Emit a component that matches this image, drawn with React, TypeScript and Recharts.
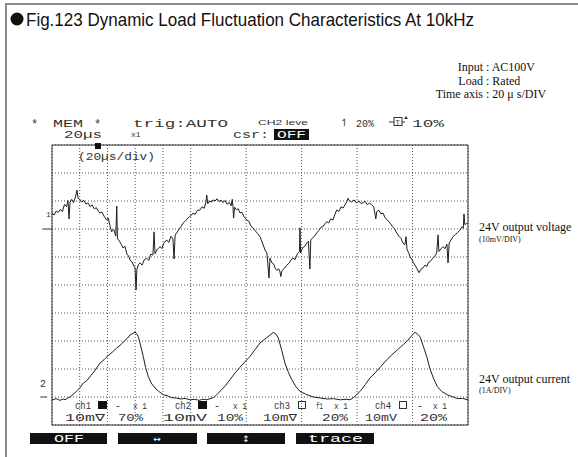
import React from 'react';
import { LineChart, Line, XAxis, YAxis, CartesianGrid, ReferenceArea, ReferenceLine } from 'recharts';

// time in µs, voltage deviation in mV (ch1 reference = 0), current in A (ch2 reference = 0)
const voltagePoints: [number, number][] = [
  [0,5.7],[1.5,5.0],[3,6.4],[4.5,5.9],[6,7.0],[7.5,6.2],[9,8.8],[10.5,8.0],[11.5,10.2],[12.3,3.6],[13,9.5],[14.2,10.6],[15.5,9.4],[17,11.5],[18,13.9],[18.8,11.0],[20,10.6],[21.4,9.6],[23,10.2],[24.5,8.9],[26,9.3],[27.4,8.0],[29,8.6],[30.5,7.2],[32,7.6],[33.5,6.3],[34.6,5.7],[36,6.1],[37.5,4.6],[39.4,3.2],[40.5,3.9],[41.8,1.2],[43,-1.0],[44.5,-0.2],[46,-2.5],[46.7,8.2],[47.2,-3.5],[48.5,-4.2],[50,-5.5],[51.2,-6.8],[52.5,-6.1],[54,-8.9],[55.2,-9.6],[56.3,-11.1],[57.8,-11.8],[59,-13.2],[59.9,-13.9],[60.6,-21.8],[61.2,-14.5],[62.3,-12.8],[63.5,-12.1],[65,-12.9],[66.5,-11.0],[68.3,-10.4],[69.8,-11.2],[71.2,-9.0],[72.8,-9.3],[73.6,-1.0],[74.3,-8.8],[75.8,-7.4],[77.9,-6.3],[79.2,-7.0],[80.6,-5.1],[82.7,-3.9],[84.2,-4.8],[85.8,-2.6],[87.2,-3.5],[88,-10.7],[88.8,-2.2],[89.9,-1.4],[91.5,-0.2],[93,0.9],[94.5,2.1],[96,2.8],[97.5,3.6],[99,4.4],[100.5,4.9],[101.7,5.7],[103.2,5.2],[104.8,6.6],[106.7,6.8],[108.2,7.9],[109.8,7.4],[111,9.6],[111.6,12.1],[112.3,9.0],[113.8,10.0],[115,9.6],[116.1,10.4],[117.6,10.0],[119,10.8],[120.5,9.8],[122,10.3],[123.3,9.4],[124.8,10.2],[126.3,8.8],[127.8,9.5],[129.2,8.3],[130,10.6],[130.5,8.0],[131,3.9],[131.6,7.8],[133,6.9],[134.3,7.2],[135.6,5.7],[137,6.0],[138.7,4.2],[140.4,3.2],[142,2.8],[143.5,1.0],[145,0.4],[146.5,-0.6],[148.2,-1.6],[150,-2.75],[151.8,-5.0],[153.6,-7.5],[155,-8.6],[156.5,-17.5],[157.2,-10.4],[158.5,-12.0],[160,-12.6],[160.8,-13.9],[162.3,-14.8],[163.4,-14.2],[164.4,-15.3],[165,-17.0],[165.8,-14.9],[167.5,-14.1],[169.3,-12.9],[171,-12.2],[172.4,-11.0],[173.8,-10.4],[175.3,-10.9],[177,-8.8],[178.5,-8.1],[178.8,0.4],[179.3,-8.5],[180.8,-6.6],[182.3,-6.2],[183.7,-5.0],[184.9,-4.4],[186,-14.3],[186.6,-3.9],[188,-3.2],[189.5,-2.4],[190.9,-1.4],[192.5,-0.5],[194,0.6],[195.5,0.9],[197,2.0],[198.1,2.6],[199.6,2.2],[201,3.6],[202.6,3.2],[204,5.2],[205.3,6.8],[206.8,6.2],[208.4,7.9],[209.9,7.5],[211.5,8.8],[212.7,9.8],[213.5,11.0],[214.3,10.2],[216,9.6],[217.8,10.4],[219.7,9.3],[221.3,10.0],[222.8,9.1],[224.3,9.4],[225.8,9.9],[227.3,8.7],[229,9.2],[230.6,8.6],[232,8.0],[233.5,3.6],[234.2,6.2],[235.7,6.7],[237.2,5.4],[238.7,5.7],[240.3,4.0],[242,3.1],[243.8,2.1],[245.4,0.9],[247,0.1],[248.6,-1.4],[250.2,-2.6],[251.7,-3.4],[253.1,-5.0],[254.5,-5.6],[255.3,-2.75],[256,-7.2],[257.1,-8.4],[258.2,-9.9],[259.5,-10.8],[260.6,-12.0],[261.8,-12.9],[263.2,-14.2],[264.7,-15.6],[266,-14.4],[267.5,-13.9],[269,-12.9],[270.4,-13.4],[271.5,-11.9],[272.6,-11.7],[274,-10.8],[275.8,-9.9],[277.4,-8.6],[278.4,-2.1],[279,-8.0],[280.5,-7.1],[282,-6.3],[283.5,-7.0],[284.8,-5.4],[285.6,-12.1],[286.4,-5.0],[287.8,-3.9],[289.2,-2.75],[290.8,-2.0],[292.5,-1.3],[294.2,-0.4],[295.7,0.8],[296.6,0.3],[297.1,5.4],[297.7,1.6],[298.8,1.9],[299.8,2.25]
];

const currentPoints: [number, number][] = [
  [0,-0.1],[3,-0.06],[5.8,-0.12],[8,-0.07],[9.4,-0.1],[11,-0.05],[13,0],[15.5,0.1],[18,0.22],[20.5,0.35],[22.6,0.5],[25,0.58],[28,0.76],[31,0.95],[34.6,1.21],[37.5,1.33],[40.5,1.48],[43.5,1.6],[46.6,1.75],[49.5,1.86],[52.5,2.02],[54.5,2.1],[56.3,2.22],[58.2,2.27],[59.9,2.32],[61,2.26],[62.2,2.16],[63.5,1.92],[65.8,1.45],[67.5,1.05],[69.4,0.74],[71.5,0.5],[74.3,0.32],[77,0.2],[80.3,0.08],[83,0.05],[86,-0.02],[89.9,-0.04],[93,-0.07],[96,-0.05],[99.5,-0.1],[103,-0.08],[106,-0.12],[109,-0.08],[111.6,-0.1],[114,-0.06],[116.5,-0.02],[118.8,0.08],[121.5,0.22],[125,0.4],[128.4,0.62],[132,0.86],[135.5,1.06],[139,1.25],[142.8,1.45],[146.5,1.7],[150,1.93],[153,2.05],[156.5,2.18],[159.6,2.31],[161.5,2.25],[163.2,2.11],[165.5,1.7],[168,1.21],[170.5,0.88],[172.9,0.62],[175.8,0.38],[178.8,0.2],[183,0.1],[188.4,0],[193,-0.03],[198.1,-0.07],[203,-0.06],[208,-0.1],[212,-0.08],[214.9,-0.1],[217.5,-0.02],[219.7,0.08],[223,0.25],[226,0.45],[229.3,0.68],[233,0.86],[237,1.08],[241.4,1.33],[245,1.5],[249,1.68],[253.3,1.87],[256.5,2.02],[259.5,2.2],[261.8,2.31],[263.5,2.25],[265.4,2.16],[267.5,1.85],[270.2,1.45],[272.5,1.02],[275,0.68],[277.8,0.38],[281,0.2],[285,0.08],[289.4,0],[292.5,-0.06],[296,-0.05],[300,-0.1]
];

const timeTicks = [0, 20, 40, 60, 80, 100, 120, 140, 160, 180, 200, 220, 240, 260, 280, 300];
const voltageTicks = [-70, -60, -50, -40, -30, -20, -10, 0, 10, 20, 30];
const currentTicks = [-1, 0, 1, 2, 3, 4, 5, 6, 7, 8, 9];

const voltageData = voltagePoints.map(([t, v]) => ({ t, v }));
const currentData = currentPoints.map(([t, i]) => ({ t, i }));

const SCOPE = "'Liberation Mono', 'DejaVu Sans Mono', monospace";
const SANS = "'Liberation Sans', Arial, sans-serif";
const SYM = "'DejaVu Sans', sans-serif";
const SERIF = "'Liberation Serif', 'Times New Roman', serif";
const INK = '#333';

function ST(props: { x: number; y: number; w?: number; size?: number; fill?: string; anchor?: string; children: React.ReactNode; font?: string }) {
  const { x, y, w, size = 10, fill = INK, anchor = 'start', children, font = SCOPE } = props;
  return (
    <text x={x} y={y} fontFamily={font} fontSize={size} fill={fill} textAnchor={anchor as any}
      {...(w ? { textLength: w, lengthAdjust: 'spacingAndGlyphs' } : {})}>{children}</text>
  );
}

function Overlay() {
  return (
    <svg width={578} height={457} style={{ position: 'absolute', left: 0, top: 0, pointerEvents: 'none' }}>
      <path d="M6 457 L6 4 L578 4" fill="none" stroke="#8a8a8a" strokeWidth={2} />
      <circle cx={17} cy={19} r={6.5} fill="#111" />
      <text x={26} y={26} fontFamily="'Liberation Sans Narrow', 'Liberation Sans', Arial, sans-serif" fontSize={18.5} fill="#111" textLength={448} lengthAdjust="spacingAndGlyphs">Fig.123  Dynamic Load Fluctuation Characteristics At 10kHz</text>

      <text fontFamily={SERIF} fontSize={12} fill="#111">
        <tspan x={483} y={71} textAnchor="end">Input</tspan><tspan x={486} y={71}>: AC100V</tspan>
      </text>
      <text fontFamily={SERIF} fontSize={12} fill="#111">
        <tspan x={483} y={84.5} textAnchor="end">Load</tspan><tspan x={486} y={84.5}>: Rated</tspan>
      </text>
      <text fontFamily={SERIF} fontSize={12} fill="#111">
        <tspan x={483} y={98} textAnchor="end">Time axis</tspan><tspan x={486} y={98}>: 20 μ s/DIV</tspan>
      </text>

      <ST x={31} y={128} size={12}>*</ST>
      <ST x={53} y={127} w={30} size={11}>MEM</ST>
      <ST x={94} y={128} size={12}>*</ST>
      <ST x={133} y={127} w={95} size={11}>trig:AUTO</ST>
      <ST x={258} y={125} w={50} size={8} font={SANS}>CH2 leve</ST>
      <ST x={340} y={126} size={10} font={SYM}>↿</ST>
      <ST x={356} y={127} w={18} size={10}>20%</ST>
      <path d="M389 122 L394 122 M402 122 L405 122" stroke={INK} strokeWidth={1} />
      <rect x={394} y={117.5} width={8} height={8} fill="none" stroke={INK} strokeWidth={1} />
      <ST x={395.5} y={124.5} size={7} font={SANS}>T</ST>
      <path d="M404 119 L406 116 L408 119 Z" fill={INK} />
      <ST x={412} y={127} w={32} size={11}>10%</ST>

      <ST x={64} y={138} w={38} size={11}>20µs</ST>
      <ST x={131} y={137} size={8}>x1</ST>
      <ST x={233} y={138} w={36} size={11}>csr:</ST>
      <rect x={274} y={129} width={35} height={11} fill="#111" />
      <ST x={277} y={138} w={29} size={10} fill="#fff">OFF</ST>

      <rect x={95} y={143} width={6} height={6} fill="#111" />
      <ST x={78} y={160} w={77} size={10}>(20µs/div)</ST>

      <ST x={46} y={217} size={8}>1</ST>
      <ST x={40} y={387} size={10}>2</ST>

      <ST x={75} y={409} w={16} size={10}>ch1</ST>
      <rect x={98} y={401} width={9} height={8} fill="#111" />
      <ST x={115} y={409} size={10}>-</ST>
      <ST x={133} y={409} w={14} size={9}>x 1</ST>
      <ST x={175} y={409} w={16} size={10}>ch2</ST>
      <rect x={198} y={401} width={9} height={8} fill="#111" />
      <ST x={214} y={409} size={10}>-</ST>
      <ST x={233} y={409} w={14} size={9}>x 1</ST>
      <ST x={274} y={409} w={16} size={10}>ch3</ST>
      <rect x={298.5} y={401.5} width={7} height={7} fill="none" stroke={INK} strokeWidth={1} />
      <ST x={316} y={409} w={7} size={9}>f1</ST>
      <ST x={334} y={409} w={14} size={9}>x 1</ST>
      <ST x={375} y={409} w={16} size={10}>ch4</ST>
      <rect x={399.5} y={401.5} width={7} height={7} fill="none" stroke={INK} strokeWidth={1} />
      <ST x={417} y={409} size={10}>-</ST>
      <ST x={433} y={409} w={14} size={9}>x 1</ST>

      <ST x={65} y={421} w={40} size={10}>10m∇</ST>
      <ST x={118} y={421} w={25} size={10}>70%</ST>
      <ST x={163} y={421} w={44} size={10}>10mV</ST>
      <ST x={217} y={421} w={26} size={10}>10%</ST>
      <ST x={263} y={421} w={34} size={10}>10m∇</ST>
      <ST x={322} y={421} w={26} size={10}>20%</ST>
      <ST x={365} y={421} w={32} size={10}>10mV</ST>
      <ST x={420} y={421} w={27} size={10}>20%</ST>

      <rect x={30} y={433} width={77} height={11} fill="#111" />
      <ST x={54} y={442} w={30} size={10} fill="#fff">OFF</ST>
      <rect x={118} y={433} width={79} height={11} fill="#111" />
      <ST x={157} y={442} size={9} fill="#fff" anchor="middle" font={SYM}>↔</ST>
      <rect x={207} y={433} width={78} height={11} fill="#111" />
      <ST x={246} y={442} size={9} fill="#fff" anchor="middle" font={SYM}>↕</ST>
      <rect x={296} y={433} width={78} height={11} fill="#111" />
      <ST x={308} y={442} w={55} size={10} fill="#fff">trace</ST>

      <ST x={479} y={231} size={12} font={SERIF} fill="#111">24V output voltage</ST>
      <ST x={479} y={242} size={8} font={SERIF} fill="#111">(10mV/DIV)</ST>
      <ST x={479} y={383} size={12} font={SERIF} fill="#111">24V output current</ST>
      <ST x={479} y={393} size={8} font={SERIF} fill="#111">(1A/DIV)</ST>
    </svg>
  );
}

export default function App() {
  return (
    <div style={{ position: 'absolute', left: 0, top: 0, width: 578, height: 457, background: '#fff', overflow: 'hidden' }}>
      <LineChart width={578} height={457} margin={{ top: 145, right: 110, bottom: 32, left: 52 }}>
        <XAxis dataKey="t" type="number" domain={[0, 300]} ticks={timeTicks} hide allowDuplicatedCategory={false} />
        <YAxis yAxisId="v" type="number" domain={[-70, 30]} ticks={voltageTicks} hide />
        <YAxis yAxisId="i" type="number" domain={[-1, 9]} ticks={currentTicks} hide />
        <CartesianGrid yAxisId="v" stroke="#555" strokeDasharray="1 2" strokeWidth={1} />
        <ReferenceArea yAxisId="v" x1={0} x2={300} y1={-70} y2={30} fill="none" stroke="#333" strokeWidth={1} ifOverflow="visible" />
        <ReferenceLine yAxisId="v" segment={[{ x: -7, y: 0 }, { x: 0, y: 0 }]} stroke="#333" ifOverflow="visible" />
        <ReferenceLine yAxisId="i" segment={[{ x: -8.5, y: 0 }, { x: -3.5, y: 0 }]} stroke="#333" ifOverflow="visible" />
        <Line yAxisId="v" data={voltageData} dataKey="v" type="linear" stroke="#1e1e1e" strokeWidth={1} dot={false} isAnimationActive={false} />
        <Line yAxisId="i" data={currentData} dataKey="i" type="linear" stroke="#1e1e1e" strokeWidth={1} dot={false} isAnimationActive={false} />
      </LineChart>
      <Overlay />
    </div>
  );
}
